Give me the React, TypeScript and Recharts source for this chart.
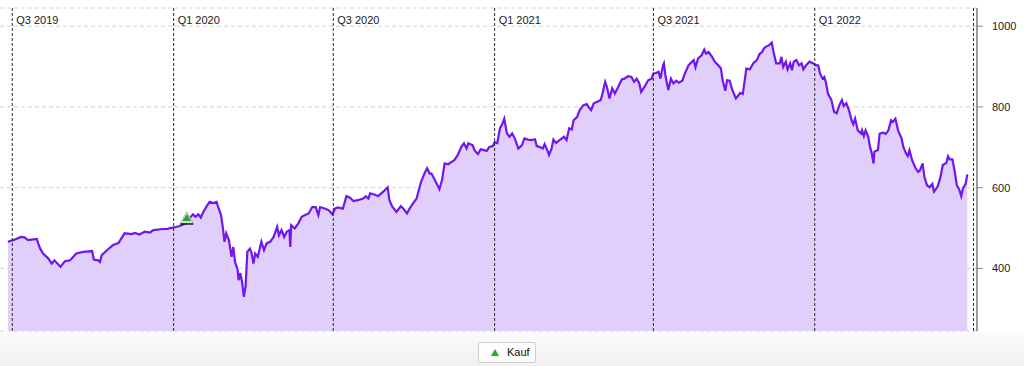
import {
  ComposedChart,
  Area,
  Scatter,
  XAxis,
  YAxis,
  CartesianGrid,
  ReferenceLine,
  Legend,
} from "recharts";

const dates = [
  "2019-06-26", "2019-07-02", "2019-07-11", "2019-07-15", "2019-07-19", "2019-07-25", "2019-07-29",
  "2019-08-01", "2019-08-05", "2019-08-11", "2019-08-15", "2019-08-18", "2019-08-22", "2019-08-25",
  "2019-08-30", "2019-09-05", "2019-09-12", "2019-09-20", "2019-09-30", "2019-10-02", "2019-10-07",
  "2019-10-09", "2019-10-11", "2019-10-17", "2019-10-24", "2019-10-30", "2019-11-06", "2019-11-14",
  "2019-11-18", "2019-11-23", "2019-11-29", "2019-12-05", "2019-12-09", "2019-12-17", "2019-12-25",
  "2019-12-28",
  "2020-01-02", "2020-01-08", "2020-01-14", "2020-01-19", "2020-01-23", "2020-01-26", "2020-01-29",
  "2020-02-01", "2020-02-03", "2020-02-07", "2020-02-11", "2020-02-15", "2020-02-19", "2020-02-20",
  "2020-02-24", "2020-02-26", "2020-02-28", "2020-03-01", "2020-03-04", "2020-03-07", "2020-03-09",
  "2020-03-11", "2020-03-14", "2020-03-15", "2020-03-17", "2020-03-19", "2020-03-21", "2020-03-23",
  "2020-03-25", "2020-03-28", "2020-03-30", "2020-04-01", "2020-04-03", "2020-04-06", "2020-04-10",
  "2020-04-13", "2020-04-16", "2020-04-20", "2020-04-24", "2020-04-28", "2020-04-30", "2020-05-03",
  "2020-05-06", "2020-05-09", "2020-05-12", "2020-05-13", "2020-05-14", "2020-05-18", "2020-05-22",
  "2020-05-26", "2020-05-30", "2020-06-03", "2020-06-07", "2020-06-11", "2020-06-14", "2020-06-16",
  "2020-06-22", "2020-06-26", "2020-06-30", "2020-07-03",
  "2020-07-06", "2020-07-12", "2020-07-16", "2020-07-20", "2020-07-24", "2020-07-29", "2020-08-04",
  "2020-08-07", "2020-08-10", "2020-08-12", "2020-08-17", "2020-08-21", "2020-08-27", "2020-09-01",
  "2020-09-03", "2020-09-06", "2020-09-11", "2020-09-16", "2020-09-19", "2020-09-23", "2020-09-26",
  "2020-09-30", "2020-10-04", "2020-10-09", "2020-10-13", "2020-10-16", "2020-10-19", "2020-10-21",
  "2020-10-26", "2020-10-30", "2020-11-02", "2020-11-05", "2020-11-09", "2020-11-13", "2020-11-16",
  "2020-11-20", "2020-11-24", "2020-11-27", "2020-11-30", "2020-12-02", "2020-12-07", "2020-12-09",
  "2020-12-13", "2020-12-16", "2020-12-20", "2020-12-23", "2020-12-26", "2020-12-30", "2021-01-01",
  "2021-01-04", "2021-01-07",
  "2021-01-10", "2021-01-12", "2021-01-15", "2021-01-18", "2021-01-21", "2021-01-24", "2021-01-28",
  "2021-02-01", "2021-02-04", "2021-02-08", "2021-02-12", "2021-02-16", "2021-02-18", "2021-02-21",
  "2021-02-25", "2021-02-27", "2021-03-02", "2021-03-04", "2021-03-07", "2021-03-09", "2021-03-12",
  "2021-03-16", "2021-03-21", "2021-03-24", "2021-03-27", "2021-03-30", "2021-04-01", "2021-04-05",
  "2021-04-08", "2021-04-12", "2021-04-16", "2021-04-18", "2021-04-21", "2021-04-24", "2021-04-28",
  "2021-05-02", "2021-05-04", "2021-05-07", "2021-05-09", "2021-05-12", "2021-05-15", "2021-05-18",
  "2021-05-22", "2021-05-26", "2021-05-29", "2021-06-02", "2021-06-06", "2021-06-09", "2021-06-12",
  "2021-06-15", "2021-06-17", "2021-06-21", "2021-06-25", "2021-06-29", "2021-07-01",
  "2021-07-04", "2021-07-07", "2021-07-09", "2021-07-12", "2021-07-13", "2021-07-15", "2021-07-18",
  "2021-07-21", "2021-07-24", "2021-07-27", "2021-07-30", "2021-08-03", "2021-08-06", "2021-08-10",
  "2021-08-14", "2021-08-16", "2021-08-18", "2021-08-21", "2021-08-25", "2021-08-28", "2021-08-30",
  "2021-09-02", "2021-09-06", "2021-09-09", "2021-09-13", "2021-09-16", "2021-09-18", "2021-09-21",
  "2021-09-23", "2021-09-26", "2021-09-29", "2021-10-03", "2021-10-06", "2021-10-08", "2021-10-11",
  "2021-10-15", "2021-10-19", "2021-10-23", "2021-10-27", "2021-10-30", "2021-11-02", "2021-11-04",
  "2021-11-07", "2021-11-10", "2021-11-13", "2021-11-15", "2021-11-18", "2021-11-22", "2021-11-24",
  "2021-11-26", "2021-11-29", "2021-12-01", "2021-12-04", "2021-12-06", "2021-12-08", "2021-12-11",
  "2021-12-14", "2021-12-17", "2021-12-19", "2021-12-22", "2021-12-26", "2021-12-30", "2022-01-03",
  "2022-01-05", "2022-01-07", "2022-01-10", "2022-01-12", "2022-01-14", "2022-01-16", "2022-01-20",
  "2022-01-23", "2022-01-26", "2022-01-29", "2022-02-01", "2022-02-03", "2022-02-06", "2022-02-09",
  "2022-02-12", "2022-02-14", "2022-02-16", "2022-02-18", "2022-02-19", "2022-02-23", "2022-02-24",
  "2022-02-26", "2022-02-28", "2022-03-03", "2022-03-05", "2022-03-07", "2022-03-09", "2022-03-10",
  "2022-03-14", "2022-03-16", "2022-03-20", "2022-03-23", "2022-03-26", "2022-03-29", "2022-03-31",
  "2022-04-03", "2022-04-06", "2022-04-10", "2022-04-12", "2022-04-15", "2022-04-17", "2022-04-19",
  "2022-04-22", "2022-04-26", "2022-04-29", "2022-05-01", "2022-05-04", "2022-05-06", "2022-05-09",
  "2022-05-12", "2022-05-15", "2022-05-17", "2022-05-21", "2022-05-24", "2022-05-27", "2022-05-31",
  "2022-06-02", "2022-06-04", "2022-06-07", "2022-06-10", "2022-06-12", "2022-06-15", "2022-06-17",
  "2022-06-19", "2022-06-22", "2022-06-24",
];

const values = [
  466, 470, 478, 477, 470, 472, 473,
  453, 437, 425, 412, 420, 411, 404,
  418, 420, 437, 441, 443, 422, 420,
  416, 433, 445, 458, 463, 487, 485,
  488, 484, 491, 489, 495, 497, 498,
  500,
  502, 505, 511, 524, 534, 528, 534,
  526, 536, 552, 565, 562, 565, 557,
  532, 503, 466, 487, 470, 429, 453,
  416, 396, 371, 388, 367, 330, 354,
  441, 449, 437, 412, 437, 429, 466,
  445, 462, 466, 478, 503, 482, 495,
  478, 491, 495, 453, 507, 499, 511,
  528, 532, 536, 552, 552, 532, 552,
  548, 544, 534, 548,
  551, 548, 579, 575, 567, 569, 573,
  579, 573, 586, 583, 579, 590, 601,
  569, 554, 540, 554, 548, 536, 548,
  561, 573, 614, 635, 648, 635, 635,
  614, 596, 619, 660, 658, 664, 668,
  681, 701, 710, 697, 710, 705, 693,
  683, 695, 693, 691, 701, 703, 713,
  710, 747,
  759, 771, 734, 726, 734, 722, 697,
  705, 722, 719, 718, 720, 703, 701,
  697, 708, 693, 681, 697, 719, 711,
  718, 726, 718, 747, 744, 767, 775,
  792, 804, 807, 800, 792, 809, 813,
  817, 833, 862, 850, 821, 846, 833,
  850, 868, 870, 876, 874, 862, 870,
  858, 837, 850, 866, 870, 883,
  884, 887, 870, 903, 908, 874, 842,
  870, 858, 865, 860, 865, 883, 903,
  912, 916, 898, 920, 928, 942, 932,
  936, 924, 912, 903, 895, 866, 840,
  866, 865, 842, 821, 829, 835, 832,
  895, 893, 908, 916, 931, 936, 945,
  950, 953, 959, 936, 908, 908, 924,
  899, 912, 893, 908, 891, 912, 916,
  903, 908, 893, 903, 912, 908, 903,
  903, 883, 870, 874, 858, 833, 817,
  788, 784, 804, 817, 802, 809, 792,
  767, 757, 771, 752, 742, 734, 742,
  728, 742, 726, 701, 685, 660, 689,
  693, 734, 736, 733, 742, 767, 763,
  771, 742, 722, 701, 685, 678, 693,
  668, 648, 639, 643, 660, 627, 606,
  601, 609, 590, 602, 623, 656, 661,
  678, 670, 670, 635, 606, 594, 579,
  598, 609, 633,
];

const quarterDates = ["2019-07-01", "2020-01-01", "2020-07-01", "2021-01-01", "2021-07-01", "2022-01-01", "2022-07-01"];
const quarterLabels = ["Q3 2019", "Q1 2020", "Q3 2020", "Q1 2021", "Q3 2021", "Q1 2022", ""];

const buyDates = ["2020-01-16"];
const buyValues = [512];

const yTicks = [400, 600, 800, 1000];

const rows = dates.map((d, i) => ({ t: Date.parse(d), v: values[i] }));
const buys = buyDates.map((d, i) => ({ t: Date.parse(d), v: buyValues[i] }));

const FONT = "'Liberation Sans', Arial, Helvetica, sans-serif";

function BuyMarker(props: any) {
  const { cx, cy } = props;
  return (
    <g>
      <polygon
        points={`${cx - 6.5},${cy} ${cx + 6.5},${cy} ${cx},${cy - 11.5}`}
        fill="#f4f4f4"
        stroke="#9a9a9a"
        strokeWidth={0.8}
      />
      <polygon points={`${cx - 4.5},${cy - 2} ${cx + 4.5},${cy - 2} ${cx},${cy - 9.5}`} fill="#1fae2a" />
      <line x1={cx - 6.5} x2={cx + 6.5} y1={cy + 0.8} y2={cy + 0.8} stroke="#111" strokeWidth={1.4} />
    </g>
  );
}

function quarterLabel(text: string) {
  return (p: any) => {
    const vb = p.viewBox || {};
    return (
      <text x={vb.x + 4} y={24} fill="#1a1a1a" fontSize={11} fontFamily={FONT}>
        {text}
      </text>
    );
  };
}

function LegendBox() {
  return (
    <div
      style={{
        position: "relative",
        width: 1024,
        height: 34,
        background: "linear-gradient(to bottom, #fbfbfb, #f1f1f1)",
      }}
    >
      <div
        style={{
          position: "absolute",
          left: 478,
          top: 10,
          width: 56,
          height: 19,
          border: "1px solid #cfcfcf",
          borderRadius: 2,
          background: "#fdfdfd",
          fontFamily: FONT,
          fontSize: 11,
          color: "#111",
        }}
      >
        <svg width={10} height={9} style={{ position: "absolute", left: 11, top: 5 }}>
          <polygon points="1,8 9,8 5,1" fill="#1fae2a" />
        </svg>
        <span style={{ position: "absolute", left: 28, top: 3 }}>Kauf</span>
      </div>
    </div>
  );
}

export default function App() {
  return (
    <div style={{ position: "absolute", left: 0, top: 0, width: 1024, height: 366, background: "#fff" }}>
      <ComposedChart width={1024} height={366} data={rows} margin={{ top: 8, right: 0, bottom: 1, left: 0 }}>
        <CartesianGrid vertical={false} stroke="#d2d2d2" strokeDasharray="4 3" />
        <XAxis
          dataKey="t"
          type="number"
          scale="time"
          domain={[Date.UTC(2019, 5, 17), Date.UTC(2022, 6, 5)]}
          allowDataOverflow
          hide
        />
        <YAxis
          orientation="right"
          type="number"
          domain={[245, 1045]}
          ticks={yTicks}
          allowDataOverflow
          width={47}
          tickSize={6}
          tickMargin={9}
          axisLine={{ stroke: "#7a7a7a", strokeWidth: 1.5 }}
          tickLine={{ stroke: "#8a8a8a" }}
          tick={{ fill: "#1a1a1a", fontSize: 11, fontFamily: FONT }}
        />
        <Area
          type="linear"
          dataKey="v"
          stroke="#6f17ee"
          strokeWidth={2.2}
          fill="#e0cffa"
          fillOpacity={1}
          dot={false}
          activeDot={false}
          isAnimationActive={false}
          legendType="none"
        />
        {quarterDates.map((d, i) => (
          <ReferenceLine
            key={d}
            x={Date.parse(d)}
            stroke="#2a2a2a"
            strokeDasharray="3 2"
            label={quarterLabel(quarterLabels[i])}
          />
        ))}
        <Scatter data={buys} dataKey="v" shape={BuyMarker} isAnimationActive={false} legendType="none" />
        <Legend
          verticalAlign="bottom"
          content={() => <LegendBox />}
          wrapperStyle={{ left: 0, bottom: 0, width: 1024, height: 34 }}
        />
      </ComposedChart>
    </div>
  );
}
